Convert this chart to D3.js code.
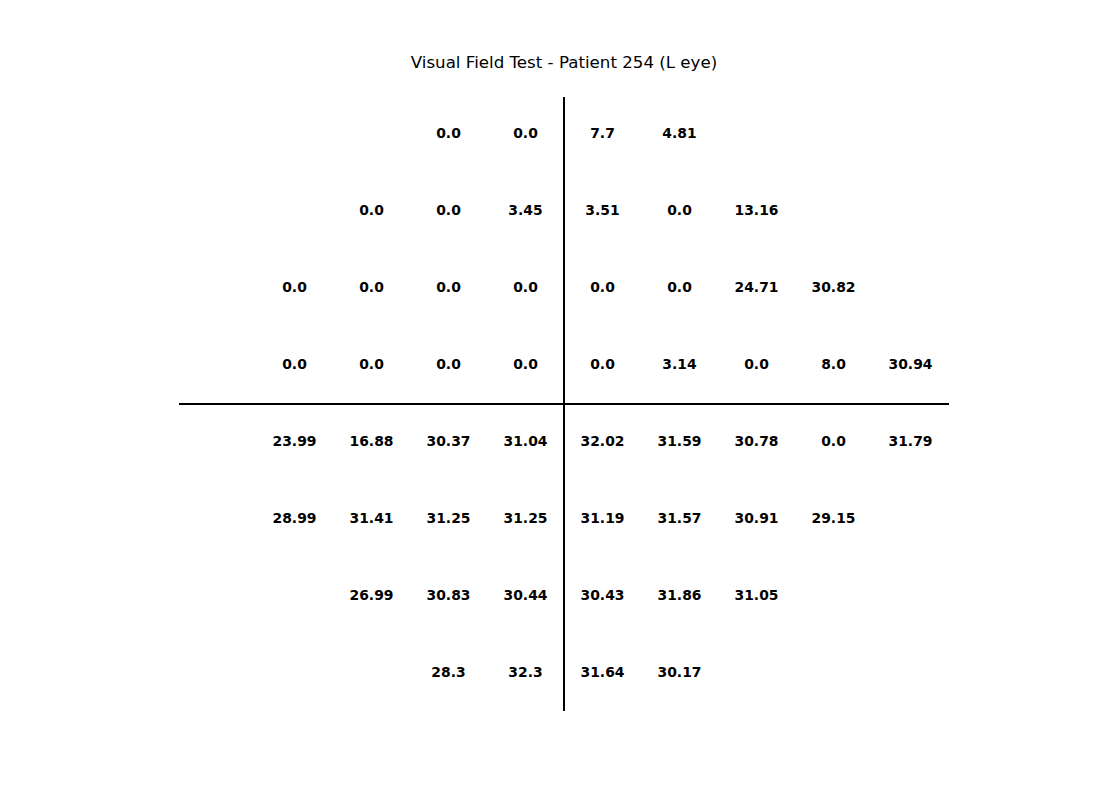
<!DOCTYPE html>
<html>
<head>
<meta charset="utf-8">
<script src="https://cdn.jsdelivr.net/npm/d3@7"></script>
<style>
  html, body { margin: 0; padding: 0; background: #fff; }
  svg { display: block; }
</style>
</head>
<body>
<div id="chart"></div>
<script>
// ---- Data (visual field positions in degrees, sensitivity values in dB) ----
const title = "Visual Field Test - Patient 254 (L eye)";
const rowY = [21, 15, 9, 3, -3, -9, -15, -21];
const rowStartX = [-9, -15, -21, -21, -21, -21, -15, -9];
const row1 = [0.0, 0.0, 7.7, 4.81];
const row2 = [0.0, 0.0, 3.45, 3.51, 0.0, 13.16];
const row3 = [0.0, 0.0, 0.0, 0.0, 0.0, 0.0, 24.71, 30.82];
const row4 = [0.0, 0.0, 0.0, 0.0, 0.0, 3.14, 0.0, 8.0, 30.94];
const row5 = [23.99, 16.88, 30.37, 31.04, 32.02, 31.59, 30.78, 0.0, 31.79];
const row6 = [28.99, 31.41, 31.25, 31.25, 31.19, 31.57, 30.91, 29.15];
const row7 = [26.99, 30.83, 30.44, 30.43, 31.86, 31.05];
const row8 = [28.3, 32.3, 31.64, 30.17];
const rows = [row1, row2, row3, row4, row5, row6, row7, row8];
const gridStep = 6;
const xDomain = [-30, 30];
const yDomain = [-24, 24];

// ---- Build point table ----
const points = [];
rows.forEach((vals, i) => {
  vals.forEach((v, j) => {
    points.push({ x: rowStartX[i] + j * gridStep, y: rowY[i], v: v });
  });
});

const fmt = v => Number.isInteger(v) ? v.toFixed(1) : String(v);

// ---- Layout ----
const W = 1100, H = 800;
const svg = d3.select("#chart").append("svg")
  .attr("width", W).attr("height", H);
svg.append("rect").attr("width", W).attr("height", H).attr("fill", "#fff");

const x = d3.scaleLinear().domain(xDomain).range([179, 949]);
const y = d3.scaleLinear().domain(yDomain).range([712, 96]);

// Meridian lines
svg.append("line")
  .attr("x1", x(xDomain[0])).attr("x2", x(xDomain[1]))
  .attr("y1", y(0)).attr("y2", y(0))
  .attr("stroke", "#000").attr("stroke-width", 2);
svg.append("line")
  .attr("x1", x(0)).attr("x2", x(0))
  .attr("y1", y(yDomain[0]) - 1).attr("y2", y(yDomain[1]) + 1)
  .attr("stroke", "#000").attr("stroke-width", 2);

// Values
svg.append("g")
  .selectAll("text")
  .data(points)
  .join("text")
  .attr("x", d => x(d.x))
  .attr("y", d => y(d.y))
  .attr("dy", "0.26em")
  .attr("text-anchor", "middle")
  .attr("font-family", "DejaVu Sans, sans-serif")
  .attr("font-weight", "bold")
  .attr("font-size", 13.9)
  .attr("fill", "#000")
  .text(d => fmt(d.v));

// Title
svg.append("text")
  .attr("x", x(0))
  .attr("y", 68)
  .attr("text-anchor", "middle")
  .attr("font-family", "DejaVu Sans, sans-serif")
  .attr("font-size", 16.67)
  .attr("fill", "#000")
  .text(title);
</script>
</body>
</html>
